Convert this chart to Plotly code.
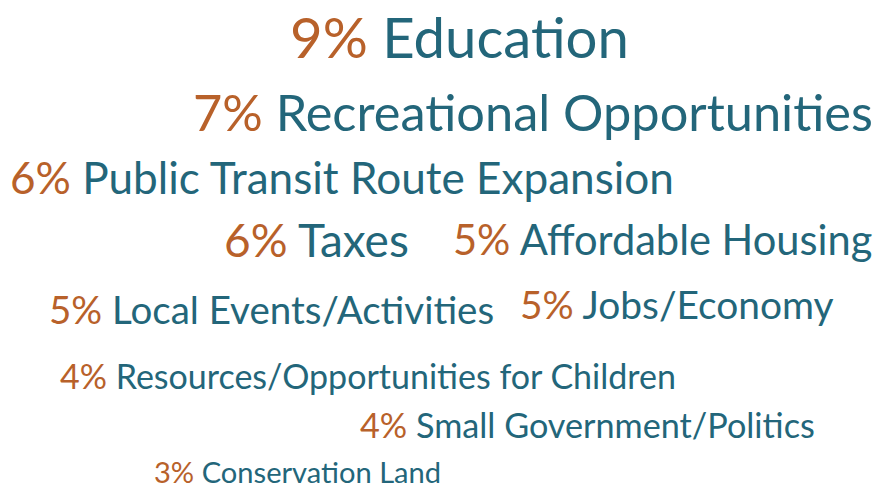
import plotly.graph_objects as go

topics = ["Education", "Recreational Opportunities", "Public Transit Route Expansion",
          "Taxes", "Affordable Housing", "Local Events/Activities", "Jobs/Economy",
          "Resources/Opportunities for Children", "Small Government/Politics",
          "Conservation Land"]
percents = [9, 7, 6, 6, 5, 5, 5, 4, 4, 3]

# layout of the word cloud (pixel centre positions of the cap height, font sizes)
cx = [459.5, 532.5, 342, 316, 662.5, 271, 677, 367.5, 587.5, 297.5]
cy = [38, 113, 177, 241, 240, 309, 304, 376, 425, 471]
fsize = [56.3, 50.5, 44.1, 46, 41.6, 38.5, 38.9, 34, 34.2, 29.1]

PAGE_OFFSET = 8  # default body margin of the html page

ORANGE = "#B8612A"
TEAL = "#23667A"

fig = go.Figure()
fig.add_trace(go.Scatter(x=[0, 885], y=[0, 487], mode="markers",
                         marker=dict(opacity=0), hoverinfo="skip", showlegend=False))

for t, p, x, y, s in zip(topics, percents, cx, cy, fsize):
    fig.add_annotation(
        x=x - PAGE_OFFSET, y=y - (5 + 0.09 * s), xref="x", yref="y",
        xanchor="center", yanchor="middle",
        text=f"<span style='color:{ORANGE}'>{p}%</span> <span style='color:{TEAL}'>{t}</span>",
        showarrow=False, font=dict(family="Lato", size=s, color=TEAL),
    )

fig.update_layout(
    width=885, height=487, margin=dict(l=0, r=0, t=0, b=0),
    paper_bgcolor="white", plot_bgcolor="white",
    xaxis=dict(range=[0, 885], visible=False, fixedrange=True),
    yaxis=dict(range=[487, 0], visible=False, fixedrange=True),
)
fig.write_html("out.html")
